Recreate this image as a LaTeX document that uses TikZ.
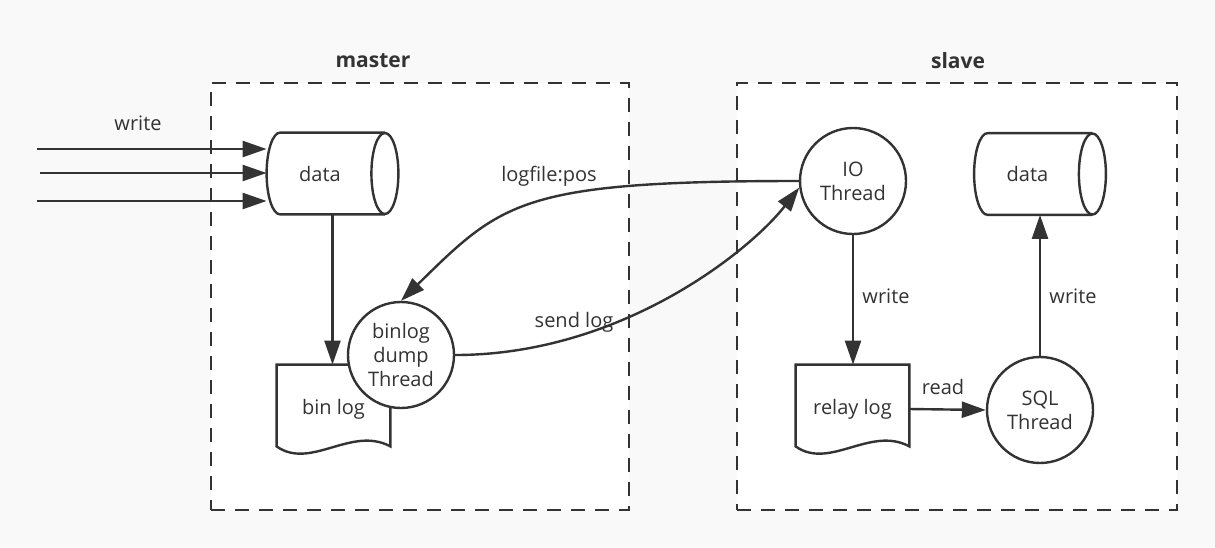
\documentclass[tikz,border=0pt]{standalone}
\usepackage{fontspec}
\setmainfont{Open Sans}
\usetikzlibrary{arrows.meta}
\definecolor{ink}{RGB}{51,51,51}
\definecolor{canvas}{RGB}{249,249,249}
\tikzset{
  line/.style={draw=ink, line width=1.2pt},
  arr/.style={line, -{Triangle[length=12pt,width=8pt]}},
  zone/.style={draw=ink, fill=white, line width=1.4pt, dash pattern=on 7pt off 5pt,
    minimum height=213.5pt, inner sep=0pt},
  zonename/.style={text=ink, font=\fontsize{10.5}{12}\selectfont\bfseries},
  lbl/.style={text=ink, font=\fontsize{10}{12}\selectfont},
  store/.style={minimum width=65.5pt, minimum height=40.5pt, inner sep=0pt, lbl,
    execute at begin node={\hspace*{-12.5pt}}},
  thread/.style={circle, line, fill=white, minimum size=53pt, inner sep=0pt, align=center, lbl},
  logdoc/.style={minimum width=56.5pt, minimum height=44pt, inner sep=0pt, lbl},
}
\begin{document}
\begin{tikzpicture}[x=0.5pt, y=-0.5pt]
  \fill[canvas] (0,0) rectangle (1215,547);

  % master and slave areas
  \node[zone, minimum width=209pt] (master) at (420,296.5) {};
  \node[zone, minimum width=220pt] (slave) at (957,296.5) {};
  \node[zonename] (mastername) at (373,61) {master};
  \node[zonename] (slavename) at (958,61) {slave};

  % master side
  \node[store] (mdata) at (332.5,173.5) {data};
  \node[logdoc] (binlog) at (333.5,409) {bin log};
  % slave side
  \node[store] (sdata) at (1040,174) {data};
  \node[logdoc] (relay) at (852.5,409) {relay log};

  \foreach \n in {mdata,sdata} {
    \draw[line] ([xshift=-6.75pt]\n.north east) -- ([xshift=6.75pt]\n.north west)
      .. controls +(-7.46,0) and +(0,-22.37) .. (\n.west)
      .. controls +(0,22.37) and +(-7.46,0) .. ([xshift=6.75pt]\n.south west)
      -- ([xshift=-6.75pt]\n.south east);
    \draw[line] ([xshift=-6.75pt]\n.east) ellipse [x radius=6.75pt, y radius=20.25pt];
  }
  \foreach \n in {binlog,relay}
    \draw[line] (\n.north west) -- (\n.north east) -- ([yshift=3.5pt]\n.south east)
      .. controls +(-39,-21) and +(34,24) .. ([yshift=3.5pt]\n.south west) -- cycle;

  \node[thread] (dump) at (401,355) {binlog\\dump\\Thread};
  \node[thread] (io) at (853,181) {IO\\Thread};
  \node[thread] (sql) at (1040,410) {SQL\\Thread};

  % incoming writes
  \coordinate (w1) at (37,149);
  \coordinate (w2) at (40,173);
  \coordinate (w3) at (37,201);
  \foreach \w in {w1,w2,w3}
    \draw[arr] (\w) -- (\w -| mdata.west);
  \node[lbl] (writein) at (138,123) {write};

  \draw[arr] (mdata.south) -- (mdata.south |- binlog.north);

  % master <-> slave
  \draw[arr] (io.west) .. controls +(-278,0) and +(101,-99) .. (dump.north);
  \node[lbl] (posname) at (549,176) {logfile:pos};
  \draw[arr] (dump.east) .. controls +(165,0) and +(-50,64) .. (io.187);
  \node[lbl] (sendname) at (574,322) {send log};

  % slave inside
  \draw[arr] (io.south) -- (io.south |- relay.north);
  \node[lbl] (writerelay) at (886,296) {write};
  \draw[arr] (relay.east) -- (sql.west);
  \node[lbl] (readname) at (943,387) {read};
  \draw[arr] (sql.north) -- (sql.north |- sdata.south);
  \node[lbl] (writedata) at (1073,296) {write};
\end{tikzpicture}
\end{document}
